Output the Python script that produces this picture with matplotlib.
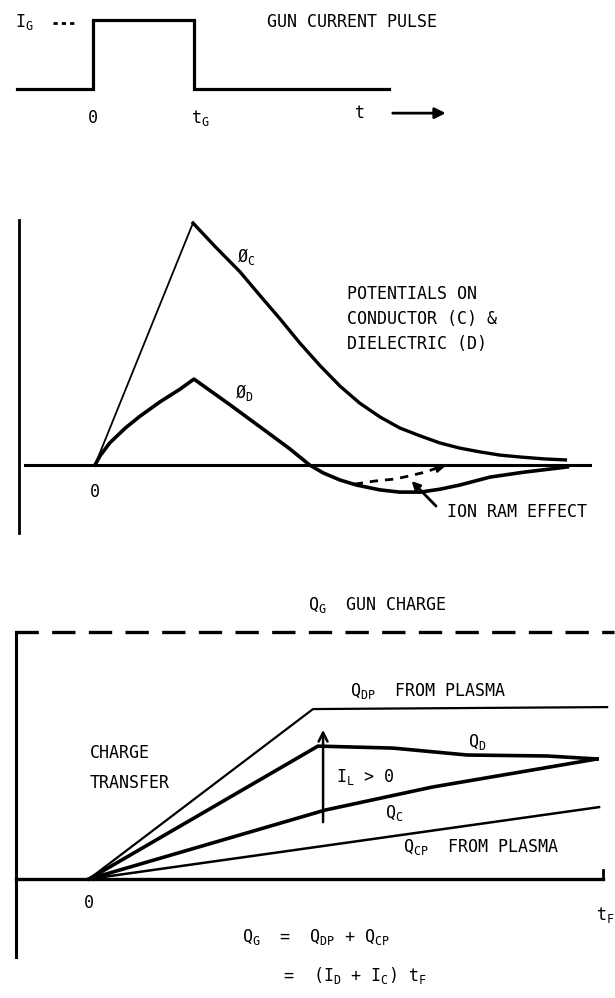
import matplotlib
matplotlib.use("Agg")
import matplotlib.pyplot as plt

plt.rcParams['font.family'] = ['DejaVu Sans Mono', 'DejaVu Sans']
plt.rcParams['font.size'] = 12
plt.rcParams['mathtext.fontset'] = 'custom'
plt.rcParams['mathtext.rm'] = 'DejaVu Sans Mono'
plt.rcParams['mathtext.it'] = 'DejaVu Sans Mono'
plt.rcParams['mathtext.bf'] = 'DejaVu Sans Mono'

# --- gun current pulse (time in units of t_G, current in units of I_G)
pulse_t = [-0.75, 0, 0, 1, 1, 2.93]
pulse_i = [0, 0, 1, 1, 0, 0]

# --- potentials (time in units of t_G, potential in units of peak phi_C)
phic_rise_t = [0, 1]
phic_rise_v = [0, 1]
phic_decay_t = [1, 1.22, 1.48, 1.68, 1.89, 2.09, 2.30, 2.50, 2.70, 2.91, 3.11,
                3.32, 3.52, 3.72, 3.93, 4.13, 4.34, 4.59, 4.80]
phic_decay_v = [1, 0.905, 0.798, 0.702, 0.603, 0.504, 0.409, 0.326, 0.256, 0.198,
                0.153, 0.120, 0.091, 0.070, 0.054, 0.041, 0.033, 0.025, 0.021]
phid_t = [0, 0.05, 0.15, 0.31, 0.46, 0.66, 0.87, 1.01, 1.38, 1.77, 1.99, 2.19,
          2.33, 2.50, 2.67, 2.91, 3.11, 3.32, 3.52, 3.72, 4.03, 4.37, 4.82]
phid_v = [0, 0.037, 0.091, 0.153, 0.202, 0.260, 0.314, 0.355, 0.248, 0.132, 0.066,
          0, -0.033, -0.062, -0.083, -0.103, -0.112, -0.112, -0.100, -0.083,
          -0.050, -0.030, -0.008]
ionram_t = [2.65, 2.86, 3.06, 3.21, 3.37, 3.52]
ionram_v = [-0.079, -0.066, -0.058, -0.045, -0.029, -0.008]

# --- charge transfer (time in units of t_G, charge in units of Q_G)
tf = 2.295
qg_t = [-0.33, 2.345]
qg_q = [1, 1]
qdp_t = [0, 1.0, 2.313]
qdp_q = [0, 0.688, 0.696]
qd_t = [0, 1.022, 1.357, 1.688, 2.045, 2.268]
qd_q = [0, 0.538, 0.530, 0.502, 0.498, 0.486]
qc_t = [0, 1.054, 1.531, 2.268]
qc_q = [0, 0.279, 0.372, 0.486]
qcp_t = [0, 2.277]
qcp_q = [0, 0.291]

W, H = 615, 998
fig = plt.figure(figsize=(W / 100, H / 100), dpi=100)


def panel(top, bottom, x0, xs, y0, ys):
    # axes spanning the full width; x0/y0 = pixel of data origin, xs/ys = px per unit
    ax = fig.add_axes([0, 1 - bottom / H, 1, (bottom - top) / H])
    ax.set_xlim(-x0 / xs, (W - x0) / xs)
    ax.set_ylim((y0 - bottom) / ys, (y0 - top) / ys)
    ax.axis('off')
    return ax


# ---------------- panel 1 ----------------
ax1 = panel(0, 140, 93, 101, 89, 69)
ax1.plot(pulse_t, pulse_i, color='black', lw=2.3, solid_joinstyle='miter')
ax1.plot([-0.40, -0.15], [0.96, 0.96], color='black', lw=2, ls=(0, (1.5, 1.5)))
ax1.text(-0.77, 0.97, r'$I_G$', ha='left', va='center')
ax1.text(1.72, 0.97, 'GUN CURRENT PULSE', ha='left', va='center')
ax1.text(0, -0.42, '0', ha='center', va='center')
ax1.text(1.06, -0.42, r'$t_G$', ha='center', va='center')
ax1.text(2.64, -0.35, 't', ha='center', va='center')
ax1.annotate('', xy=(3.52, -0.35), xytext=(2.94, -0.35),
             arrowprops=dict(arrowstyle='-|>', color='black', lw=2,
                             mutation_scale=16))

# ---------------- panel 2 ----------------
ax2 = panel(200, 545, 95, 98, 465, 242)
ax2.plot([-0.714, 5.05], [0, 0], color='black', lw=2.2)
ax2.plot([-0.776, -0.776], [1.012, -0.281], color='black', lw=2)
ax2.plot(phic_rise_t, phic_rise_v, color='black', lw=1.3)
ax2.plot(phic_decay_t, phic_decay_v, color='black', lw=2.4)
ax2.plot(phid_t, phid_v, color='black', lw=2.6)
ax2.plot(ionram_t, ionram_v, color='black', lw=2, ls=(0, (3, 2.5)))
ax2.annotate('', xy=(3.60, -0.003), xytext=(3.45, -0.018),
             arrowprops=dict(arrowstyle='-|>', color='black', lw=1.5,
                             mutation_scale=12))
ax2.annotate('', xy=(3.21, -0.058), xytext=(3.50, -0.178),
             arrowprops=dict(arrowstyle='-|>', color='black', lw=2,
                             mutation_scale=12))
ax2.text(0, -0.112, '0', ha='center', va='center')
ax2.text(1.45, 0.86, r'$Ø_C$', ha='left', va='center')
ax2.text(1.43, 0.30, r'$Ø_D$', ha='left', va='center')
ax2.text(2.57, 0.707, 'POTENTIALS ON', ha='left', va='center')
ax2.text(2.57, 0.603, 'CONDUCTOR (C) &', ha='left', va='center')
ax2.text(2.57, 0.500, 'DIELECTRIC (D)', ha='left', va='center')
ax2.text(3.59, -0.194, 'ION RAM EFFECT', ha='left', va='center')

# ---------------- panel 3 ----------------
ax3 = panel(585, 998, 89, 224, 879, 247)
ax3.plot(qg_t, qg_q, color='black', lw=2.4, ls=(0, (7, 4)))
ax3.plot([-0.326, tf], [0, 0], color='black', lw=2.4)
ax3.plot([tf, tf], [0, 0.036], color='black', lw=2)
ax3.plot([-0.326, -0.326], [1, -0.316], color='black', lw=2.2)
ax3.plot(qdp_t, qdp_q, color='black', lw=1.6)
ax3.plot(qd_t, qd_q, color='black', lw=2.6)
ax3.plot(qc_t, qc_q, color='black', lw=2.6)
ax3.plot(qcp_t, qcp_q, color='black', lw=1.8)
ax3.annotate('', xy=(1.045, 0.615), xytext=(1.045, 0.219),
             arrowprops=dict(arrowstyle='->', color='black', lw=1.8,
                             mutation_scale=16))
ax3.text(0.978, 1.109, r'$Q_G$  GUN CHARGE', ha='left', va='center')
ax3.text(1.165, 0.761, r'$Q_{DP}$  FROM PLASMA', ha='left', va='center')
ax3.text(1.692, 0.555, r'$Q_D$', ha='left', va='center')
ax3.text(1.103, 0.413, r'$I_L$ > 0', ha='left', va='center')
ax3.text(1.321, 0.267, r'$Q_C$', ha='left', va='center')
ax3.text(1.402, 0.130, r'$Q_{CP}$  FROM PLASMA', ha='left', va='center')
ax3.text(0.004, 0.51, 'CHARGE', ha='left', va='center')
ax3.text(0.004, 0.389, 'TRANSFER', ha='left', va='center')
ax3.text(0, -0.097, '0', ha='center', va='center')
ax3.text(2.304, -0.146, r'$t_F$', ha='center', va='center')
ax3.text(0.683, -0.235, r'$Q_G$  =  $Q_{DP}$ + $Q_{CP}$', ha='left', va='center')
ax3.text(0.866, -0.389, r'=  ($I_D$ + $I_C$) $t_F$', ha='left', va='center')

fig.savefig('out.png', dpi=100)
